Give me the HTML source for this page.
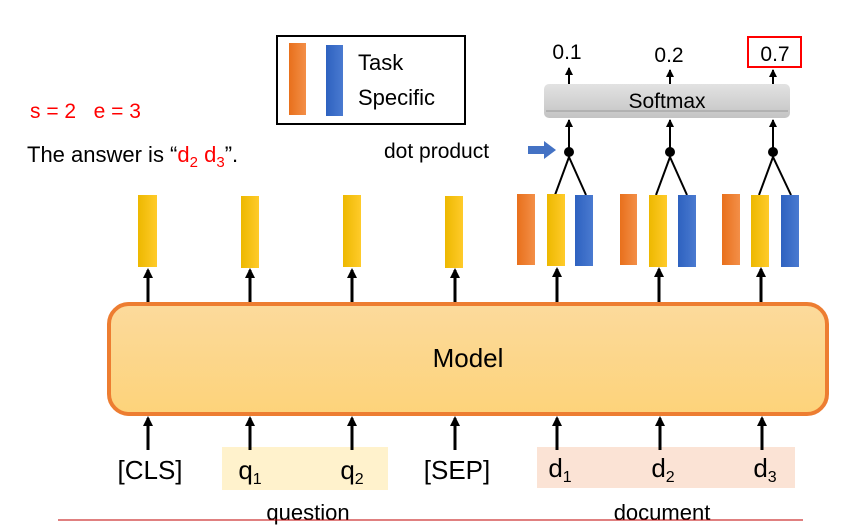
<!DOCTYPE html>
<html><head><meta charset="utf-8"><style>
html,body{margin:0;padding:0;background:#fff}
svg{display:block}
text{font-family:"Liberation Sans",sans-serif}
</style></head><body>
<svg width="860" height="527" viewBox="0 0 860 527" xmlns="http://www.w3.org/2000/svg">
<defs>
<linearGradient id="mg" x1="0" y1="0" x2="0" y2="1"><stop offset="0" stop-color="#FCDA9C"/><stop offset="1" stop-color="#FDD37A"/></linearGradient>
<linearGradient id="yg" x1="0" y1="0" x2="1" y2="0"><stop offset="0" stop-color="#EDB800"/><stop offset="1" stop-color="#FFCB2A"/></linearGradient>
<linearGradient id="og" x1="0" y1="0" x2="1" y2="0"><stop offset="0" stop-color="#E8701C"/><stop offset="1" stop-color="#F38F48"/></linearGradient>
<linearGradient id="bg" x1="0" y1="0" x2="1" y2="0"><stop offset="0" stop-color="#2E62C0"/><stop offset="1" stop-color="#4A7AD0"/></linearGradient>
<linearGradient id="sg" x1="0" y1="0" x2="0" y2="1"><stop offset="0" stop-color="#E2E2E2"/><stop offset="1" stop-color="#C4C4C4"/></linearGradient>
<marker id="ah" markerWidth="12" markerHeight="12" refX="5" refY="2" orient="0" markerUnits="userSpaceOnUse" viewBox="0 0 12 12"><path d="M0,10 L5,0 L10,10 Z" fill="#000"/></marker>
<marker id="as" markerWidth="10" markerHeight="10" refX="4" refY="1" orient="0" markerUnits="userSpaceOnUse" viewBox="0 0 10 10"><path d="M0,8 L4,0 L8,8 Z" fill="#000"/></marker>
</defs>

<rect x="277" y="36" width="188" height="88" fill="#fff" stroke="#000" stroke-width="2"/>
<rect x="289" y="43" width="17" height="72" fill="url(#og)"/>
<rect x="326" y="45" width="17" height="71" fill="url(#bg)"/>
<text x="358" y="70" font-size="22">Task</text>
<text x="358" y="105" font-size="22">Specific</text>

<text x="30" y="118" font-size="21" fill="#f00">s = 2 &#160;&#160;e = 3</text>
<text x="27" y="162" font-size="22">The answer is “<tspan fill="#f00">d<tspan font-size="15" dy="5">2</tspan><tspan dy="-5"> d</tspan><tspan font-size="15" dy="5">3</tspan></tspan><tspan dy="-5">”.</tspan></text>

<text x="384" y="158" font-size="21">dot product</text>
<path d="M528,146 h16 v-5 l12,9 l-12,9 v-5 h-16 z" fill="#4472C4"/>

<rect x="544" y="84" width="246" height="34" rx="5" fill="url(#sg)"/>
<line x1="546" y1="111" x2="788" y2="111" stroke="#999" stroke-width="1"/>
<text x="667" y="108" font-size="21" text-anchor="middle">Softmax</text>
<g stroke="#000" stroke-width="2" marker-end="url(#as)">
<line x1="569" y1="84" x2="569" y2="68"/>
<line x1="670" y1="84" x2="670" y2="70"/>
<line x1="773" y1="84" x2="773" y2="70"/>
</g>
<text x="567" y="59" font-size="21" text-anchor="middle">0.1</text>
<text x="669" y="62" font-size="21" text-anchor="middle">0.2</text>
<text x="775" y="61" font-size="21" text-anchor="middle">0.7</text>
<rect x="748" y="37" width="53" height="30" fill="none" stroke="#f00" stroke-width="2"/>

<g stroke="#000" stroke-width="2">
<line x1="569" y1="152" x2="569" y2="120" marker-end="url(#as)"/>
<line x1="670" y1="152" x2="670" y2="120" marker-end="url(#as)"/>
<line x1="773" y1="152" x2="773" y2="120" marker-end="url(#as)"/>
<polyline points="555,195 569,157 586,195" fill="none"/>
<polyline points="656,195 670,157 687,195" fill="none"/>
<polyline points="759,195 773,157 791,195" fill="none"/>
</g>
<circle cx="569" cy="152" r="5"/><circle cx="670" cy="152" r="5"/><circle cx="773" cy="152" r="5"/>

<g fill="url(#yg)">
<rect x="138" y="195" width="19" height="72"/>
<rect x="241" y="196" width="18" height="72"/>
<rect x="343" y="195" width="18" height="72"/>
<rect x="445" y="196" width="18" height="72"/>
<rect x="547" y="194" width="18" height="72"/>
<rect x="649" y="195" width="18" height="72"/>
<rect x="751" y="195" width="18" height="72"/>
</g>
<g fill="url(#og)">
<rect x="517" y="194" width="18" height="71"/>
<rect x="620" y="194" width="17" height="71"/>
<rect x="722" y="194" width="18" height="71"/>
</g>
<g fill="url(#bg)">
<rect x="575" y="195" width="18" height="71"/>
<rect x="678" y="195" width="18" height="72"/>
<rect x="781" y="195" width="18" height="72"/>
</g>

<g stroke="#000" stroke-width="3" marker-end="url(#ah)">
<line x1="148" y1="303" x2="148" y2="270"/>
<line x1="250" y1="303" x2="250" y2="270"/>
<line x1="352" y1="303" x2="352" y2="270"/>
<line x1="455" y1="303" x2="455" y2="270"/>
<line x1="557" y1="303" x2="557" y2="269"/>
<line x1="659" y1="303" x2="659" y2="269"/>
<line x1="761" y1="303" x2="761" y2="269"/>
</g>

<rect x="109" y="304" width="718" height="110" rx="20" fill="url(#mg)" stroke="#ED7D31" stroke-width="4"/>
<text x="468" y="367" font-size="26" text-anchor="middle">Model</text>

<rect x="222" y="447" width="166" height="43" fill="#FFF2CC"/>
<rect x="537" y="447" width="258" height="41" fill="#FBE3D5"/>
<g stroke="#000" stroke-width="3" marker-end="url(#ah)">
<line x1="148" y1="450" x2="148" y2="418"/>
<line x1="250" y1="450" x2="250" y2="418"/>
<line x1="352" y1="450" x2="352" y2="418"/>
<line x1="455" y1="450" x2="455" y2="418"/>
<line x1="557" y1="450" x2="557" y2="418"/>
<line x1="660" y1="450" x2="660" y2="418"/>
<line x1="762" y1="450" x2="762" y2="418"/>
</g>
<g font-size="26" text-anchor="middle">
<text x="150" y="479">[CLS]</text>
<text x="250" y="479">q<tspan font-size="16" dy="5">1</tspan></text>
<text x="352" y="479">q<tspan font-size="16" dy="5">2</tspan></text>
<text x="457" y="479">[SEP]</text>
<text x="560" y="477">d<tspan font-size="16" dy="5">1</tspan></text>
<text x="663" y="477">d<tspan font-size="16" dy="5">2</tspan></text>
<text x="765" y="477">d<tspan font-size="16" dy="5">3</tspan></text>
</g>
<text x="308" y="520" font-size="22" text-anchor="middle">question</text>
<text x="662" y="520" font-size="22" text-anchor="middle">document</text>
<line x1="58" y1="520" x2="803" y2="520" stroke="#C00000" stroke-width="1"/>
</svg>
</body></html>
